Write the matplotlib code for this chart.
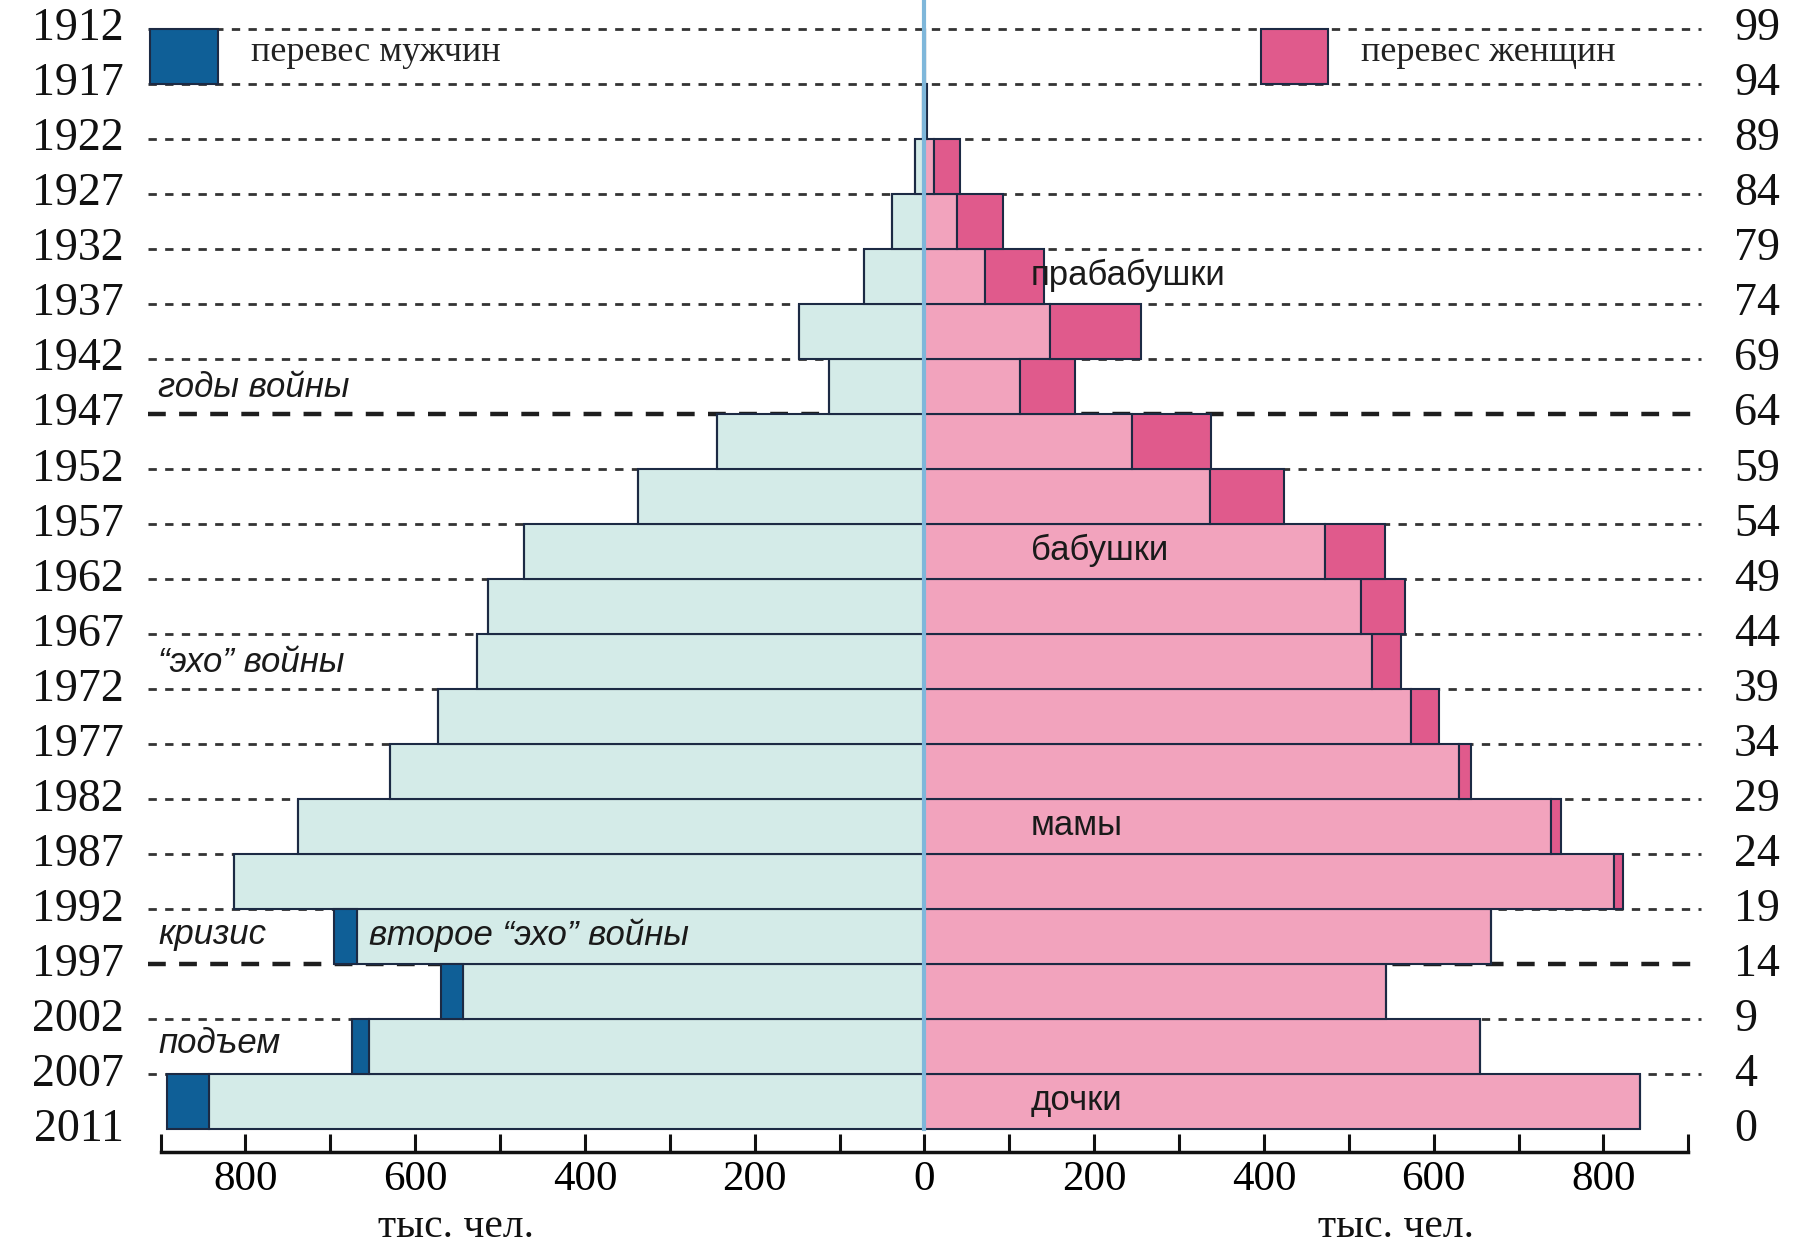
import matplotlib
matplotlib.use('Agg')
import matplotlib.pyplot as plt
import numpy as np

# boundaries, bottom to top
years = [2011, 2007, 2002, 1997, 1992, 1987, 1982, 1977, 1972, 1967, 1962,
         1957, 1952, 1947, 1942, 1937, 1932, 1927, 1922, 1917, 1912]
ages = [0, 4, 9, 14, 19, 24, 29, 34, 39, 44, 49, 54, 59, 64, 69, 74, 79, 84, 89, 94, 99]
# rows bottom (0-4) to top (94-99), thousand people
male = [893, 675, 569, 696, 813, 738, 630, 573, 527, 514, 472, 337, 244, 113,
        148, 71, 38, 11, 2, 1]
female = [843, 655, 544, 668, 823, 750, 644, 606, 562, 566, 543, 424, 338, 177,
          255, 141, 93, 42, 3, 1]
xticks_major = [-800, -600, -400, -200, 0, 200, 400, 600, 800]
xtick_labels = ['800', '600', '400', '200', '0', '200', '400', '600', '800']

C_MALE = '#d4ebe8'
C_MALE_EX = '#0f5f97'
C_FEM = '#f2a3bd'
C_FEM_EX = '#e05a8c'
EDGE = '#1c2a44'

fig = plt.figure(figsize=(17.98, 12.48), dpi=100)
ax = fig.add_axes([0.0893, 0.0769, 0.8497, 0.913])
ax.set_xlim(-900, 900)
ax.set_ylim(-0.41, 20.3)

m = np.array(male, dtype=float)
f = np.array(female, dtype=float)
y = np.arange(len(m))
base = np.minimum(m, f)

# dashed guide lines
for k in range(1, 21):
    if k in (3, 13):
        ax.plot([-915, 915], [k, k], ls=(0, (4, 3)), color='#1e1e1e', lw=3.2,
                zorder=0, clip_on=False)
    else:
        ax.plot([-915, 915], [k, k], ls=(0, (3, 3)), color='#333333', lw=2.0,
                zorder=0, clip_on=False)

# bars
ax.barh(y, -base, left=0, height=1, align='edge', color=C_MALE,
        edgecolor=EDGE, linewidth=1.5, zorder=2)
mex = np.where(m > f, m - f, 0)
ax.barh(y, -mex, left=-base, height=1, align='edge', color=C_MALE_EX,
        edgecolor=EDGE, linewidth=1.5, zorder=2)
ax.barh(y, base, left=0, height=1, align='edge', color=C_FEM,
        edgecolor=EDGE, linewidth=1.5, zorder=2)
fex = np.where(f > m, f - m, 0)
ax.barh(y, fex, left=base, height=1, align='edge', color=C_FEM_EX,
        edgecolor=EDGE, linewidth=1.5, zorder=2)

# central line
ax.plot([0, 0], [0, 20.8], color='#7fb7da', lw=3, zorder=3, clip_on=False)

# spines / ticks
for s in ['left', 'right', 'top']:
    ax.spines[s].set_visible(False)
ax.spines['bottom'].set_linewidth(2.5)
ax.spines['bottom'].set_color('#111111')
ax.set_yticks([])
ax.set_xticks(xticks_major)
ax.set_xticklabels(xtick_labels, family='Liberation Serif', fontsize=31)
ax.set_xticks(np.arange(-900, 901, 100), minor=True)
ax.tick_params(axis='x', which='both', direction='in', length=13, width=2.2,
               color='#111111', pad=6)

# year and age labels
for k, (yr, ag) in enumerate(zip(years, ages)):
    ax.text(-0.024, k, str(yr), transform=ax.get_yaxis_transform(),
            ha='right', va='center', family='Liberation Serif', fontsize=33,
            color='#111111')
    ax.text(1.03, k, str(ag), transform=ax.get_yaxis_transform(),
            ha='left', va='center', family='Liberation Serif', fontsize=33,
            color='#111111')

# axis titles (bottom of figure)
fig.text(0.2535, 0.002, 'тыс. чел.', ha='center', va='bottom',
         family='Liberation Serif', fontsize=30, color='#111111')
fig.text(0.7765, 0.002, 'тыс. чел.', ha='center', va='bottom',
         family='Liberation Serif', fontsize=30, color='#111111')

# legend boxes
ax.bar(-872, 1, width=80, bottom=19, color=C_MALE_EX, edgecolor=EDGE,
       linewidth=1.5, zorder=4, clip_on=False)
ax.text(-793, 19.58, 'перевес мужчин', ha='left', va='center',
        family='Liberation Serif', fontsize=26, color='#222222', zorder=5)
ax.bar(436, 1, width=80, bottom=19, color=C_FEM_EX, edgecolor=EDGE,
       linewidth=1.5, zorder=4)
ax.text(514, 19.58, 'перевес женщин', ha='left', va='center',
        family='Liberation Serif', fontsize=26, color='#222222', zorder=5)

# annotations
it = dict(family='Liberation Sans', style='italic', fontsize=25,
          color='#1a1a1a', va='center', ha='left', zorder=6)
ax.text(-903, 13.48, 'годы войны', **it)
ax.text(-903, 8.48, '“эхо” войны', **it)
ax.text(-903, 3.54, 'кризис', **it)
ax.text(-654, 3.54, 'второе “эхо” войны', **it)
ax.text(-903, 1.56, 'подъем', **it)

nt = dict(family='Liberation Sans', fontsize=25, color='#1a1a1a',
          va='center', ha='left', zorder=6)
ax.text(125, 15.52, 'прабабушки', **nt)
ax.text(125, 10.52, 'бабушки', **nt)
ax.text(125, 5.52, 'мамы', **nt)
ax.text(125, 0.52, 'дочки', **nt)

fig.savefig('out.png', dpi=100)
